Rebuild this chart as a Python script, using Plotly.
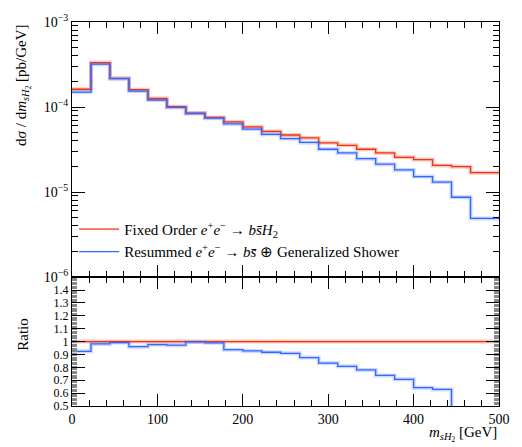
import plotly.graph_objects as go

# ---- data ----
bin_edges = [0.0, 22.2, 44.4, 66.7, 88.9, 111.1, 133.3, 155.6, 177.8, 200.0, 222.2,
             244.4, 266.7, 288.9, 311.1, 333.3, 355.6, 377.8, 400.0, 422.2, 444.4,
             466.7, 500.0]
fixed_order = [1.62e-4, 3.33e-4, 2.17e-4, 1.60e-4, 1.26e-4, 1.01e-4, 8.5e-5, 7.55e-5,
               6.68e-5, 5.85e-5, 5.17e-5, 4.69e-5, 4.33e-5, 3.80e-5, 3.55e-5, 3.19e-5,
               2.89e-5, 2.56e-5, 2.41e-5, 2.06e-5, 1.99e-5, 1.69e-5]
resummed = [1.50e-4, 3.19e-4, 2.16e-4, 1.54e-4, 1.21e-4, 9.9e-5, 8.4e-5, 7.4e-5,
            6.33e-5, 5.5e-5, 4.78e-5, 4.26e-5, 3.84e-5, 3.19e-5, 2.89e-5, 2.47e-5,
            2.13e-5, 1.82e-5, 1.52e-5, 1.31e-5, 8.7e-6, 4.9e-6]
ratio_fixed = [1.0] * 22
ratio_resummed = [0.924, 0.982, 0.992, 0.960, 0.977, 0.972, 0.997, 0.990, 0.937, 0.927,
                  0.917, 0.909, 0.876, 0.833, 0.808, 0.780, 0.737, 0.707, 0.642, 0.629,
                  0.437, 0.290]
x_ticks = [0, 100, 200, 300, 400, 500]
top_tickvals = [1e-3, 1e-4, 1e-5, 1e-6]
top_ticktext = ["10<sup>−3</sup>", "10<sup>−4</sup>", "10<sup>−5</sup>", "10<sup>−6</sup>"]
ratio_tickvals = [0.5, 0.6, 0.7, 0.8, 0.9, 1.0, 1.1, 1.2, 1.3, 1.4]
ratio_ticktext = ["0.5", "0.6", "0.7", "0.8", "0.9", "1", "1.1", "1.2", "1.3", "1.4"]

RED = "#EE3311"
BLUE = "#3366FF"
FONT = "Liberation Serif"

def steps(vals):
    return list(vals) + [vals[-1]]

log_minor = [k * 10.0 ** e for e in (-6, -5, -4) for k in range(2, 10)]

label_fixed = "Fixed Order <i>e</i><sup>+</sup><i>e</i><sup>−</sup> → <i>bs̄H</i><sub>2</sub>"
label_res = "Resummed <i>e</i><sup>+</sup><i>e</i><sup>−</sup> → <i>bs̄</i> ⊕ Generalized Shower"

fig = go.Figure()

# error-band-like halo
for vals, col, ya in [(fixed_order, RED, "y"), (resummed, BLUE, "y"),
                      (ratio_fixed, RED, "y2"), (ratio_resummed, BLUE, "y2")]:
    fig.add_trace(go.Scatter(x=bin_edges, y=steps(vals), mode="lines",
                             line=dict(shape="hv", color=col, width=4),
                             opacity=0.25, showlegend=False, hoverinfo="skip",
                             xaxis="x" if ya == "y" else "x2", yaxis=ya))

fig.add_trace(go.Scatter(x=bin_edges, y=steps(fixed_order), mode="lines", name=label_fixed,
                         line=dict(shape="hv", color=RED, width=1.3)))
fig.add_trace(go.Scatter(x=bin_edges, y=steps(resummed), mode="lines", name=label_res,
                         line=dict(shape="hv", color=BLUE, width=1.3)))
fig.add_trace(go.Scatter(x=bin_edges, y=steps(ratio_fixed), mode="lines", showlegend=False,
                         line=dict(shape="hv", color=RED, width=1.3), xaxis="x2", yaxis="y2"))
fig.add_trace(go.Scatter(x=bin_edges, y=steps(ratio_resummed), mode="lines", showlegend=False,
                         line=dict(shape="hv", color=BLUE, width=1.3), xaxis="x2", yaxis="y2"))

split = 0.3356
axis_common = dict(showline=True, linecolor="black", linewidth=1, mirror="allticks",
                   ticks="inside", tickcolor="black", showgrid=False, zeroline=False)

fig.update_layout(
    width=522, height=447,
    margin=dict(l=72, r=13, t=13, b=41),
    paper_bgcolor="white", plot_bgcolor="white",
    font=dict(family=FONT, size=15, color="black"),
    showlegend=True,
    legend=dict(x=0.005, y=0.503, xanchor="left", yanchor="top",
                bgcolor="rgba(0,0,0,0)", font=dict(family=FONT, size=15),
                tracegroupgap=0, itemwidth=40),
    xaxis=dict(domain=[0, 1], range=[0, 500], anchor="y", showticklabels=False,
               tickvals=x_ticks, ticklen=12, tickwidth=1,
               minor=dict(dtick=20, ticklen=6, ticks="inside", tickcolor="black"),
               **axis_common),
    yaxis=dict(domain=[split, 1], type="log", range=[-6, -3], anchor="x",
               tickvals=top_tickvals, ticktext=top_ticktext, ticklen=13,
               minor=dict(tickvals=log_minor, ticks="inside", ticklen=6, tickcolor="black"),
               tickfont=dict(size=14), **axis_common),
    xaxis2=dict(domain=[0, 1], range=[0, 500], anchor="y2",
                tickvals=x_ticks, ticklen=12, tickwidth=1,
                minor=dict(dtick=20, ticklen=6, ticks="inside", tickcolor="black"),
                tickfont=dict(size=14), **axis_common),
    yaxis2=dict(domain=[0, split], range=[0.5, 1.5], anchor="x2",
                tickvals=ratio_tickvals, ticktext=ratio_ticktext, ticklen=13,
                minor=dict(dtick=0.01, ticks="inside", ticklen=5, tickcolor="#888888",
                           tickwidth=0.6),
                tickfont=dict(size=12), **axis_common),
)

fig.add_annotation(xref="paper", yref="paper", x=1.0, y=-0.104, xanchor="right", yanchor="bottom",
                   text="<i>m</i><sub><i>sH</i><sub>2</sub></sub> [GeV]", showarrow=False,
                   font=dict(family=FONT, size=15))
fig.add_annotation(xref="paper", yref="paper", x=-0.115, y=1.0, xanchor="center", yanchor="top",
                   text="d<i>σ</i> / d<i>m</i><sub><i>sH</i><sub>2</sub></sub> [pb/GeV]",
                   textangle=-90, showarrow=False, font=dict(family=FONT, size=15))
fig.add_annotation(xref="paper", yref="paper", x=-0.115, y=split / 2 + 0.02, xanchor="center",
                   yanchor="middle", text="Ratio", textangle=-90, showarrow=False,
                   font=dict(family=FONT, size=15))

fig.write_html("out.html")
